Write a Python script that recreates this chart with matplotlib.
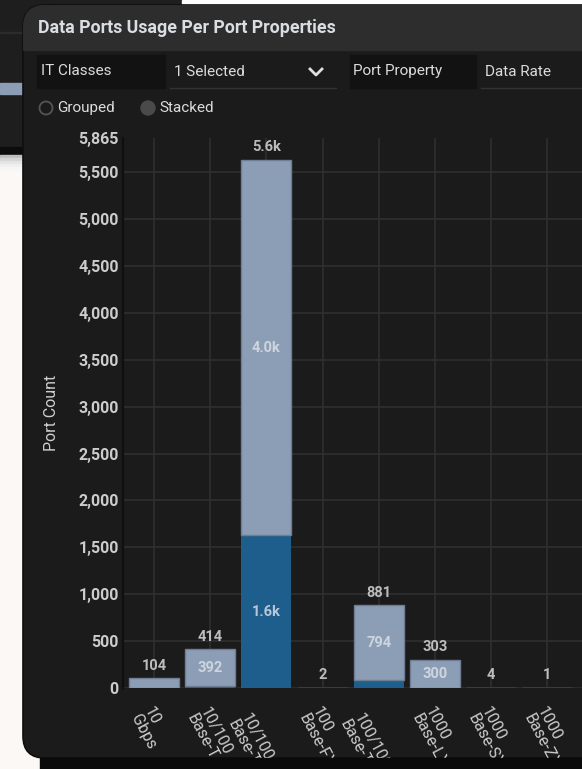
import matplotlib.pyplot as plt
import matplotlib.transforms as mtransforms
from matplotlib.patches import Rectangle, FancyBboxPatch, Circle
import numpy as np

plt.rcParams['font.family'] = ['Roboto', 'DejaVu Sans']

categories = ["10\nGbps", "10/100\nBase-T", "10/100/1000\nBase-T", "100\nBase-FX",
              "100/1000\nBase-T", "1000\nBase-LX", "1000\nBase-SX", "1000\nBase-ZX"]
dark_counts = [0, 22, 1630, 0, 87, 3, 0, 0]
light_counts = [104, 392, 4000, 2, 794, 300, 4, 1]
y_max = 5865
y_ticks = [0, 500, 1000, 1500, 2000, 2500, 3000, 3500, 4000, 4500, 5000, 5500]

W, H = 582, 769
fig = plt.figure(figsize=(W / 100, H / 100), dpi=100, facecolor='#fbf8f5')

# background / window chrome, drawn in pixel coords
bg = fig.add_axes([0, 0, 1, 1], zorder=0)
bg.set_xlim(0, W)
bg.set_ylim(H, 0)
bg.axis('off')

bg.add_patch(Rectangle((0, 0), 182, 5, color='#1f1f1f'))
bg.add_patch(Rectangle((182, 0), 400, 5, color='#ffffff'))
bg.add_patch(Rectangle((0, 0), 60, 148, color='#1e1e1e'))
bg.add_patch(Rectangle((0, 32), 60, 1, color='#2c2c2c'))
bg.add_patch(Rectangle((0, 83), 60, 11, color='#8c9db6'))
bg.add_patch(Rectangle((0, 147), 60, 8, color='#0c0c0c'))
for i, c in enumerate(['#bdbdbd', '#d4d4d4', '#e4e4e4', '#efefef', '#f6f6f6']):
    bg.add_patch(Rectangle((0, 155 + i * 3), 60, 3, color=c))

panel = FancyBboxPatch((23, 5), 640, 753, boxstyle='round,pad=0,rounding_size=22',
                       facecolor='#1b1b1b', edgecolor='#0e0e0e', lw=1.2)
bg.add_patch(panel)
header = Rectangle((23, 5), 600, 45, color='#2d2d2d')
bg.add_patch(header)
header.set_clip_path(panel)
bg.text(38, 28, "Data Ports Usage Per Port Properties", color='#dadde2',
        fontsize=12.8, fontweight='bold', va='center', ha='left')

# filter controls
ui = dict(color='#dcdcdc', fontsize=11, va='center')
bg.add_patch(Rectangle((37, 55), 128, 33, color='#121212'))
bg.text(41, 71, "IT Classes", **ui)
bg.text(174, 72, "1 Selected", **ui)
bg.plot([310, 316, 322], [69, 75, 69], color='#e0e0e0', lw=2)
bg.plot([170, 336], [87.5, 87.5], color='#333333', lw=1)
bg.add_patch(Rectangle((350, 55), 126, 33, color='#121212'))
bg.text(353, 71, "Port Property", **ui)
bg.text(485, 72, "Data Rate", **ui)
bg.plot([481, 582], [87.5, 87.5], color='#333333', lw=1)

bg.add_patch(Circle((46, 108), 6.5, facecolor='none', edgecolor='#555555', lw=1.3))
bg.text(57, 108, "Grouped", **ui)
bg.add_patch(Circle((148, 108), 7, color='#4a4a4a'))
bg.text(159, 108, "Stacked", **ui)

bg.text(51, 413, "Port Count", color='#d0d0d0', fontsize=11.5, rotation=90,
        ha='center', va='center')

# chart
ax = fig.add_axes([123 / W, (H - 688) / H, (W - 123) / W, 550 / H], zorder=1)
ax.set_facecolor('none')
x = np.arange(len(categories))
dark = np.array(dark_counts)
light = np.array(light_counts)
total = dark + light
bw = 0.89

ax.bar(x, dark, bw, color='#1d5e8c', zorder=3)
ax.bar(x, light, bw, bottom=dark, color='#8c9db6', edgecolor='#6f7e93', lw=1, zorder=3)

def fmt(v):
    return f"{v / 1000:.1f}k" if v >= 1000 else str(v)

for i in range(len(categories)):
    ax.annotate(fmt(total[i]), (x[i], total[i]), xytext=(0, 4), textcoords='offset points',
                ha='center', va='bottom', color='#bdbdbd', fontsize=10.5, fontweight='bold')
    if dark[i] > 0 and light[i] >= 150:
        ax.text(x[i], dark[i] + light[i] / 2, fmt(light[i]), ha='center', va='center',
                color='#cfd5de', fontsize=10.5, fontweight='bold', zorder=4)
    if light[i] > 0 and dark[i] >= 150:
        ax.text(x[i], dark[i] / 2, fmt(dark[i]), ha='center', va='center',
                color='#b9c8d8', fontsize=10.5, fontweight='bold', zorder=4)

ax.set_xlim(-0.552, -0.552 + (W - 123) / 56.2)
ax.set_ylim(0, y_max)
ax.set_yticks(y_ticks, [f"{t:,}" for t in y_ticks])
ax.set_yticks([y_max], [f"{y_max:,}"], minor=True)
ax.set_xticks(x, categories, rotation=-62, ha='left', va='top',
              rotation_mode='anchor', multialignment='left', linespacing=1.0)
ax.tick_params(axis='y', which='both', length=0, pad=3, labelcolor='#cccccc', labelsize=11.5)
ax.tick_params(axis='x', length=0, pad=12, labelcolor='#cccccc', labelsize=11.5)
for lab in ax.get_yticklabels(which='both'):
    lab.set_fontweight('bold')
# long (wrapped) labels sit one line lower in the original
shift = mtransforms.ScaledTranslation(-15 / 100, -6 / 100, fig.dpi_scale_trans)
for lab in ax.get_xticklabels():
    if len(lab.get_text().split('\n')[0]) > 6:
        lab.set_transform(lab.get_transform() + shift)
ax.grid(True, which='major', color='#2f2f2f', lw=1.2, zorder=0)
for s in ['top', 'right', 'bottom']:
    ax.spines[s].set_visible(False)
ax.spines['left'].set_color('#0f0f0f')
ax.spines['left'].set_linewidth(1.5)

# bottom edge covers the cut-off labels
fg = fig.add_axes([0, 0, 1, 1], zorder=2)
fg.set_xlim(0, W)
fg.set_ylim(H, 0)
fg.axis('off')
fg.patch.set_alpha(0)
fg.add_patch(Rectangle((40, 758), 560, 12, color='#0a0a0a'))

fig.savefig('out.png', dpi=100, facecolor=fig.get_facecolor())
